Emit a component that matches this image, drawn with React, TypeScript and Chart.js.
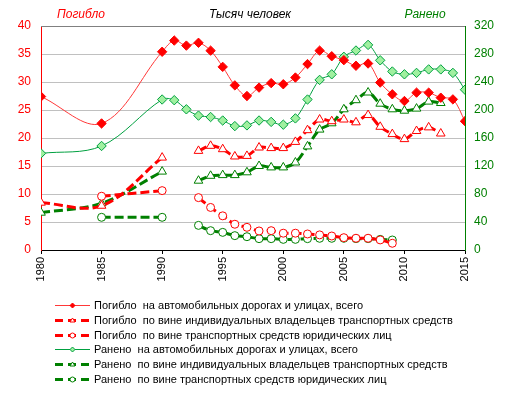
import React, { useEffect, useRef } from "react";
import { Chart, registerables } from "chart.js";
Chart.register(...registerables);

const years = [1980, 1985, 1990, 1991, 1992, 1993, 1994, 1995, 1996, 1997, 1998, 1999, 2000, 2001, 2002, 2003, 2004, 2005, 2006, 2007, 2008, 2009, 2010, 2011, 2012, 2013, 2014, 2015];

const killedTotal = [27.4, 22.6, 35.4, 37.4, 36.5, 37.0, 35.6, 32.7, 29.4, 27.5, 29.0, 29.8, 29.6, 30.8, 33.2, 35.6, 34.6, 33.9, 32.9, 33.3, 29.9, 27.8, 26.6, 28.1, 28.1, 27.2, 26.9, 23.0];
const killedIndiv = [8.45, 7.9, 16.5, null, null, 17.7, 18.6, 18.0, 16.7, 16.8, 18.3, 18.2, 18.2, 19.3, 21.4, 23.3, 23.0, 23.3, 22.8, 24.1, 22.0, 20.7, 19.8, 21.25, 21.9, 20.8, null, null];
const killedLegal = [null, 9.6, 10.6, null, null, 9.35, 7.6, 6.1, 4.6, 4.05, 3.4, 3.45, 3.0, 3.0, 2.86, 2.7, 2.5, 2.2, 2.1, 2.1, 1.8, 1.2, null, null, null, null, null, null];
const injuredTotal = [138, 148.6, 215, 214, 201, 192, 190, 185, 177, 178, 185, 183, 179, 188, 215, 243, 251, 276, 285, 293, 271, 255, 251, 253, 258, 258, 253, 229];
const injuredIndiv = [53.3, 66.7, 112, null, null, 99, 106, 107, 107, 111, 120, 118, 118, 125, 148, 172, 181, 201, 214, 225, 209, 201, 199, 202, 212, 210, null, null];
const injuredLegal = [null, 46.7, 46.7, null, null, 35.2, 27.6, 25.2, 20.5, 19, 16.2, 16.2, 15.2, 15.2, 16.2, 16.7, 16.7, 16.7, 16.2, 16.2, 15.2, 14.3, null, null, null, null, null, null];

const seriesLabels = [
  "Погибло  на автомобильных дорогах и улицах, всего",
  "Погибло  по вине индивидуальных владельцев транспортных средств",
  "Погибло  по вине транспортных средств юридических лиц",
  "Ранено  на автомобильных дорогах и улицах, всего",
  "Ранено  по вине индивидуальных владельцев транспортных средств",
  "Ранено  по вине транспортных средств юридических лиц",
];
const titleLeft = "Погибло";
const titleMid = "Тысяч человек";
const titleRight = "Ранено";

const FONT = '"Liberation Sans", Arial, sans-serif';
const RED = "#ff0000";
const GREEN = "#008000";
const LGREEN = "#00a040";

type Style = { color: string; dashed: boolean; marker: string; fill: string; mcolor: string };
const styles: Style[] = [
  { color: "#ff3838", dashed: false, marker: "rectRot", fill: RED, mcolor: RED },
  { color: RED, dashed: true, marker: "triangle", fill: "#ffffff", mcolor: RED },
  { color: RED, dashed: true, marker: "circle", fill: "#ffffff", mcolor: RED },
  { color: LGREEN, dashed: false, marker: "rectRot", fill: "#a0f0a0", mcolor: LGREEN },
  { color: GREEN, dashed: true, marker: "triangle", fill: "#ffffff", mcolor: GREEN },
  { color: GREEN, dashed: true, marker: "circle", fill: "#ffffff", mcolor: GREEN },
];

function drawMarker(ctx: CanvasRenderingContext2D, kind: string, x: number, y: number, r: number, fill: string, stroke: string) {
  ctx.save();
  ctx.setLineDash([]);
  ctx.lineWidth = 1;
  ctx.fillStyle = fill;
  ctx.strokeStyle = stroke;
  ctx.beginPath();
  if (kind === "rectRot") {
    ctx.moveTo(x, y - r);
    ctx.lineTo(x + r, y);
    ctx.lineTo(x, y + r);
    ctx.lineTo(x - r, y);
    ctx.closePath();
  } else if (kind === "triangle") {
    ctx.moveTo(x, y - r);
    ctx.lineTo(x + r, y + r * 0.6);
    ctx.lineTo(x - r, y + r * 0.6);
    ctx.closePath();
  } else {
    ctx.arc(x, y, r, 0, Math.PI * 2);
  }
  ctx.fill();
  ctx.stroke();
  ctx.restore();
}

const decorPlugin = {
  id: "decor",
  afterDraw(chart: any) {
    const ctx: CanvasRenderingContext2D = chart.ctx;
    const ca = chart.chartArea;
    ctx.save();
    ctx.strokeStyle = "#808080";
    ctx.lineWidth = 1;
    ctx.beginPath();
    ctx.moveTo(ca.left, Math.round(ca.top) + 0.5);
    ctx.lineTo(ca.right, Math.round(ca.top) + 0.5);
    ctx.stroke();
    ctx.font = `italic 12px ${FONT}`;
    ctx.textAlign = "center";
    ctx.textBaseline = "middle";
    ctx.fillStyle = RED;
    ctx.fillText(titleLeft, 81, 15);
    ctx.fillStyle = "#000000";
    ctx.fillText(titleMid, 250, 15);
    ctx.fillStyle = GREEN;
    ctx.fillText(titleRight, 425, 15);
    ctx.textAlign = "left";
    ctx.font = `11px ${FONT}`;
    for (let i = 0; i < seriesLabels.length; i++) {
      const y = Math.round(305 + i * 14.8);
      const s = styles[i];
      ctx.strokeStyle = s.color;
      if (s.dashed) {
        ctx.lineWidth = 3;
        ctx.setLineDash([8, 5]);
      } else {
        ctx.lineWidth = 1;
        ctx.setLineDash([]);
      }
      ctx.beginPath();
      ctx.moveTo(55, y + 0.5);
      ctx.lineTo(90, y + 0.5);
      ctx.stroke();
      ctx.setLineDash([]);
      drawMarker(ctx, s.marker, 72.5, y + 0.5, 2.5, s.fill, s.mcolor);
      ctx.fillStyle = "#000000";
      ctx.fillText(seriesLabels[i], 94, y + 1);
    }
    ctx.restore();
  },
};

export default function App() {
  const ref = useRef<HTMLCanvasElement>(null);
  useEffect(() => {
    const pts = (vals: (number | null)[]) => years.map((x, i) => ({ x, y: vals[i] }));
    const mk = (i: number, vals: (number | null)[], axis: string, radius: number) => {
      const s = styles[i];
      return {
        label: seriesLabels[i],
        data: pts(vals),
        yAxisID: axis,
        borderColor: s.color,
        borderWidth: s.dashed ? 3 : 1,
        borderDash: s.dashed ? [9, 4] : [],
        backgroundColor: s.fill,
        pointStyle: s.marker,
        pointRadius: radius,
        pointBackgroundColor: s.fill,
        pointBorderColor: s.mcolor,
        pointBorderWidth: 1,
        tension: 0.35,
        spanGaps: false,
        fill: false,
      };
    };
    const chart = new Chart(ref.current as HTMLCanvasElement, {
      type: "line",
      data: {
        datasets: [
          mk(0, killedTotal, "y", 4.7),
          mk(1, killedIndiv, "y", 5),
          mk(2, killedLegal, "y", 4),
          mk(3, injuredTotal, "y1", 4.7),
          mk(4, injuredIndiv, "y1", 5),
          mk(5, injuredLegal, "y1", 4),
        ] as any,
      },
      options: {
        responsive: false,
        animation: false,
        events: [],
        font: { family: FONT },
        layout: { padding: { top: 26, left: 0, right: 0, bottom: 0 } },
        plugins: { legend: { display: false }, tooltip: { enabled: false }, title: { display: false } },
        scales: {
          x: {
            type: "linear",
            min: 1980,
            max: 2015,
            afterFit: (s: any) => { s.height = 143; },
            afterBuildTicks: (s: any) => { s.ticks = [1980, 1985, 1990, 1995, 2000, 2005, 2010, 2015].map((v) => ({ value: v })); },
            ticks: {
              callback: (v: any) => String(v),
              minRotation: 90,
              maxRotation: 90,
              color: "#000000",
              padding: 3,
              font: { family: FONT, size: 11 },
            },
            grid: { drawOnChartArea: false, drawTicks: true, tickLength: 4, color: "#000000" },
            border: { color: "#000000" },
          },
          y: {
            position: "left",
            min: 0,
            max: 40,
            afterFit: (s: any) => { s.width = 41; },
            ticks: { stepSize: 5, color: RED, padding: 10, font: { family: FONT, size: 12 } },
            grid: { color: "#c0c0c0", drawTicks: false },
            border: { color: RED },
          },
          y1: {
            position: "right",
            min: 0,
            max: 320,
            afterFit: (s: any) => { s.width = 47; },
            ticks: { stepSize: 40, color: GREEN, padding: 9, font: { family: FONT, size: 12 } },
            grid: { drawOnChartArea: false, drawTicks: false },
            border: { color: GREEN },
          },
        },
      } as any,
      plugins: [decorPlugin],
    });
    return () => chart.destroy();
  }, []);
  return (
    <div style={{ position: "fixed", left: 0, top: 0, width: 512, height: 393, background: "#ffffff" }}>
      <canvas ref={ref} width={512} height={393} style={{ display: "block", width: 512, height: 393 }} />
    </div>
  );
}
